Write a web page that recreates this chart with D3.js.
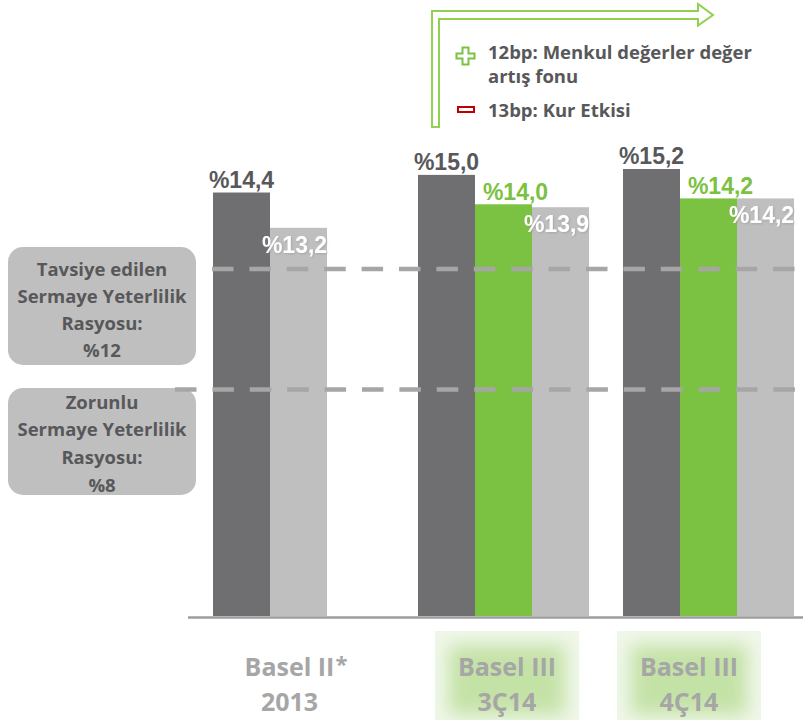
<!DOCTYPE html>
<html>
<head>
  <meta charset="utf-8" />
  <style>
    body { margin: 0; background: #fff; }
    text { font-family: "Open Sans", sans-serif; font-weight: 700; }
    .val { font-family: "Liberation Sans", Arial, sans-serif; font-size: 23px; }
  </style>
</head>
<body>
  <svg id="chart" width="803" height="720"></svg>
  <script src="https://cdn.jsdelivr.net/npm/d3@7/dist/d3.min.js"></script>
<script>
// data
var catTop = ['Basel II', 'Basel III', 'Basel III'];
var catBottom = ['2013', '3Ç14', '4Ç14'];
var catNote = ['*', '', ''];
var darkValues = [14.4, 15.0, 15.2];
var greenValues = [null, 14.0, 14.2];
var lightValues = [13.2, 13.9, 14.2];
var refLevels = [11.8, 7.7];   // where the dashed lines sit on the value scale
var refLabels = [
  ['Tavsiye edilen', 'Sermaye Yeterlilik', 'Rasyosu:', '%12'],
  ['Zorunlu', 'Sermaye Yeterlilik', 'Rasyosu:', '%8']
];
var noteLines = ['12bp: Menkul değerler değer', 'artış fonu', '13bp: Kur Etkisi'];

var svg = d3.select('#chart');
var defs = svg.append('defs');

defs.append('filter').attr('id', 'shadow')
  .attr('x', '-10%').attr('y', '-20%').attr('width', '130%').attr('height', '150%')
  .append('feDropShadow')
  .attr('dx', 1).attr('dy', 1).attr('stdDeviation', 0.8)
  .attr('flood-color', '#888').attr('flood-opacity', 0.45);

defs.append('filter').attr('id', 'blur')
  .attr('x', '-20%').attr('y', '-20%').attr('width', '140%').attr('height', '140%')
  .append('feGaussianBlur').attr('stdDeviation', 9);

var series = [
  {values: darkValues, fill: '#6f6f71', text: '#58585a', dx: 0, dy: -5},
  {values: greenValues, fill: '#7bc142', text: '#7bc142', dx: 12, dy: -4},
  {values: lightValues, fill: '#bfbfbf', text: '#fff', dx: -4, dy: 25}
];

var y = d3.scaleLinear().domain([0, 15.2]).range([616, 169]);
var x = d3.scaleBand().domain(d3.range(catTop.length)).range([213, 794]).paddingInner(34 / 205);
var slot = d3.scaleBand().domain([0, 1, 2]).range([0, x.bandwidth()]);

function fmt(v) { return '%' + d3.format('.1f')(v).replace('.', ','); }

// bars, packed left inside each group
var bars = [];
catTop.forEach(function (c, i) {
  var j = 0;
  series.forEach(function (s) {
    if (s.values[i] == null) return;
    bars.push({cat: i, slot: j++, v: s.values[i], s: s});
  });
});

var left = function (d) { return x(d.cat) + slot(d.slot); };

// reference boxes
var boxes = [{y0: 247, y1: 365, first: 276, step: 27}, {y0: 388, y1: 495, first: 408.5, step: 27.8}];
var boxG = svg.append('g');
boxes.forEach(function (b, k) {
  boxG.append('rect')
    .attr('x', 8).attr('y', b.y0).attr('width', 188).attr('height', b.y1 - b.y0)
    .attr('rx', 15).attr('fill', '#bfbfbf');
  boxG.append('text')
    .attr('text-anchor', 'middle').attr('font-size', 18.5).attr('fill', '#58585a')
    .selectAll('tspan').data(refLabels[k]).enter().append('tspan')
    .attr('x', 102)
    .attr('y', function (d, n) { return b.first + n * b.step; })
    .text(function (d) { return d; });
});

svg.append('g').selectAll('rect').data(bars).enter().append('rect')
  .attr('x', left)
  .attr('y', function (d) { return y(d.v); })
  .attr('width', slot.bandwidth())
  .attr('height', function (d) { return y(0) - y(d.v); })
  .attr('fill', function (d) { return d.s.fill; });

// dashed reference lines drawn on top of bars
svg.append('g').selectAll('line').data(refLevels).enter().append('line')
  .attr('x1', function (d, k) { return k === 0 ? 212 : 175; })
  .attr('x2', 803)
  .attr('y1', function (d) { return y(d); })
  .attr('y2', function (d) { return y(d); })
  .attr('stroke', '#a6a6a6').attr('stroke-width', 4.5)
  .attr('stroke-dasharray', '21.5 15.9');

// value labels
svg.append('g').selectAll('text').data(bars).enter().append('text')
  .attr('class', 'val')
  .attr('text-anchor', 'middle')
  .attr('x', function (d) { return left(d) + slot.bandwidth() / 2 + d.s.dx; })
  .attr('y', function (d) { return y(d.v) + d.s.dy; })
  .attr('fill', function (d) { return d.s.text; })
  .attr('filter', function (d) { return d.s.text === '#fff' ? 'url(#shadow)' : null; })
  .text(function (d) { return fmt(d.v); });

// x axis line
svg.append('line')
  .attr('x1', 188).attr('x2', 803).attr('y1', y(0) + 1.5).attr('y2', y(0) + 1.5)
  .attr('stroke', '#9d9d9d').attr('stroke-width', 2.5);

// category labels, with a soft green glow behind the Basel III ones
var labelShift = [-9, 3.5, -19.5];
catTop.forEach(function (c, i) {
  var cx = x(i) + x.bandwidth() / 2 + labelShift[i];
  if (greenValues[i] != null) {
    svg.append('rect')
      .attr('x', cx - 72).attr('y', 631).attr('width', 144).attr('height', 89)
      .attr('fill', '#f0f7ea');
    svg.append('rect')
      .attr('x', cx - 58).attr('y', 645).attr('width', 116).attr('height', 70)
      .attr('fill', '#b9dd96').attr('opacity', 0.8).attr('filter', 'url(#blur)');
  }
  var t1 = svg.append('text')
    .attr('text-anchor', 'middle').attr('font-size', 25).attr('fill', '#a6a6a6')
    .attr('x', cx).attr('y', 676).text(c);
  if (catNote[i]) {
    var w = t1.node().getComputedTextLength();
    svg.append('text')
      .attr('font-size', 22).attr('fill', '#a6a6a6')
      .attr('x', cx + w / 2 + 1).attr('y', 672).text(catNote[i]);
  }
  svg.append('text')
    .attr('text-anchor', 'middle').attr('font-size', 25).attr('fill', '#a6a6a6')
    .attr('x', cx).attr('y', 711).text(catBottom[i]);
});

// bent arrow above the right groups
var p = d3.path();
p.moveTo(432, 127); p.lineTo(432, 11); p.lineTo(698, 11); p.lineTo(698, 4);
p.lineTo(713, 15); p.lineTo(698, 25.5); p.lineTo(698, 19); p.lineTo(439, 19);
p.lineTo(439, 127); p.closePath();
svg.append('path').attr('d', p.toString())
  .attr('fill', '#fff').attr('stroke', '#92d050').attr('stroke-width', 2);

// plus / minus markers
var plus = 'M462.5,47.5h6v6h6v5h-6v6h-6v-6h-6v-5h6z';
svg.append('path').attr('d', plus)
  .attr('fill', '#fff').attr('stroke', '#7bc142').attr('stroke-width', 2);
svg.append('rect').attr('x', 458).attr('y', 107).attr('width', 16).attr('height', 5)
  .attr('fill', '#fff').attr('stroke', '#c00000').attr('stroke-width', 2);

svg.append('text').attr('font-size', 18.5).attr('fill', '#58585a')
  .selectAll('tspan').data(noteLines).enter().append('tspan')
  .attr('x', 488)
  .attr('y', function (d, n) { return [59, 83, 117][n]; })
  .text(function (d) { return d; });
</script>
</body>
</html>
